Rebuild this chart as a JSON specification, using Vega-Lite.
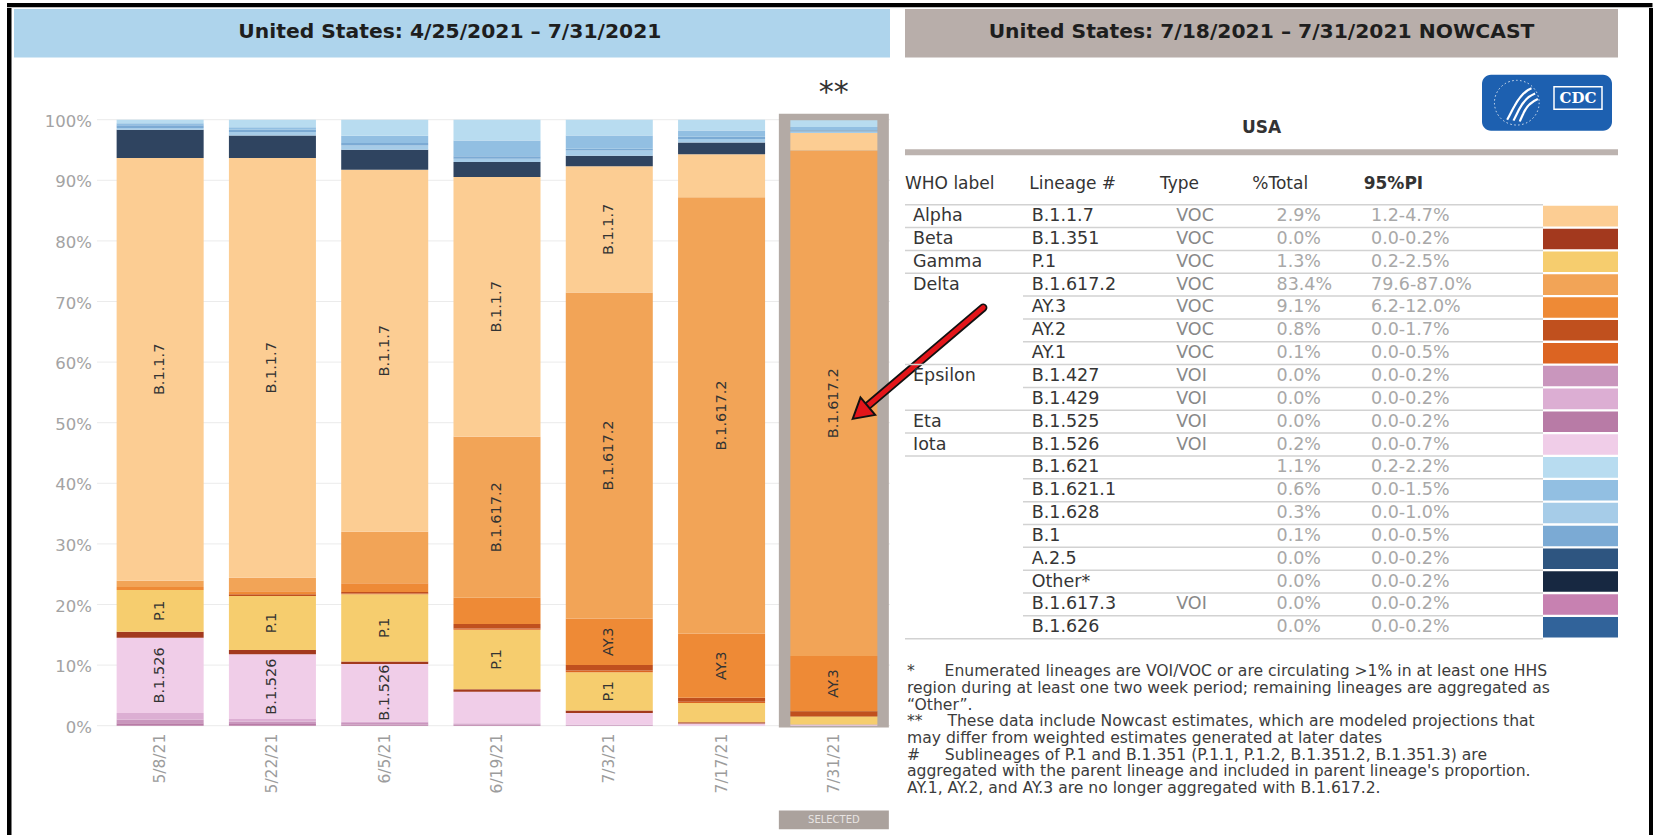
{
  "$schema": "https://vega.github.io/schema/vega-lite/v6.json",
  "background": "white",
  "padding": {"left": 7, "top": 3, "right": 0, "bottom": 0},
  "config": {
    "view": {"stroke": null},
    "font": "DejaVu Sans",
    "legend": {"disable": true}
  },
  "datasets": {
    "variants": [
      {"date": "5/8/21", "lineage": "B.1.525", "pct": 0.4},
      {"date": "5/8/21", "lineage": "B.1.427", "pct": 0.6},
      {"date": "5/8/21", "lineage": "B.1.429", "pct": 1.1},
      {"date": "5/8/21", "lineage": "B.1.526", "pct": 12.4},
      {"date": "5/8/21", "lineage": "B.1.351", "pct": 1.0},
      {"date": "5/8/21", "lineage": "P.1", "pct": 6.9},
      {"date": "5/8/21", "lineage": "AY.3", "pct": 0.5},
      {"date": "5/8/21", "lineage": "B.1.617.2", "pct": 1.0},
      {"date": "5/8/21", "lineage": "B.1.1.7", "pct": 69.8},
      {"date": "5/8/21", "lineage": "Other", "pct": 4.65},
      {"date": "5/8/21", "lineage": "B.1.628", "pct": 0.3},
      {"date": "5/8/21", "lineage": "B.1", "pct": 0.45},
      {"date": "5/8/21", "lineage": "B.1.621.1", "pct": 0.3},
      {"date": "5/8/21", "lineage": "B.1.621", "pct": 0.6},
      {"date": "5/22/21", "lineage": "B.1.525", "pct": 0.3},
      {"date": "5/22/21", "lineage": "B.1.427", "pct": 0.4},
      {"date": "5/22/21", "lineage": "B.1.429", "pct": 0.4},
      {"date": "5/22/21", "lineage": "B.1.526", "pct": 10.7},
      {"date": "5/22/21", "lineage": "B.1.351", "pct": 0.7},
      {"date": "5/22/21", "lineage": "P.1", "pct": 8.9},
      {"date": "5/22/21", "lineage": "AY.2", "pct": 0.3},
      {"date": "5/22/21", "lineage": "AY.3", "pct": 0.5},
      {"date": "5/22/21", "lineage": "B.1.617.2", "pct": 2.2},
      {"date": "5/22/21", "lineage": "B.1.1.7", "pct": 69.3},
      {"date": "5/22/21", "lineage": "Other", "pct": 3.7},
      {"date": "5/22/21", "lineage": "B.1.628", "pct": 0.55},
      {"date": "5/22/21", "lineage": "B.1", "pct": 0.4},
      {"date": "5/22/21", "lineage": "B.1.621.1", "pct": 0.4},
      {"date": "5/22/21", "lineage": "B.1.621", "pct": 1.25},
      {"date": "6/5/21", "lineage": "B.1.525", "pct": 0.2},
      {"date": "6/5/21", "lineage": "B.1.427", "pct": 0.25},
      {"date": "6/5/21", "lineage": "B.1.429", "pct": 0.25},
      {"date": "6/5/21", "lineage": "B.1.526", "pct": 9.5},
      {"date": "6/5/21", "lineage": "B.1.351", "pct": 0.4},
      {"date": "6/5/21", "lineage": "P.1", "pct": 11.1},
      {"date": "6/5/21", "lineage": "AY.1", "pct": 0.1},
      {"date": "6/5/21", "lineage": "AY.2", "pct": 0.25},
      {"date": "6/5/21", "lineage": "AY.3", "pct": 1.45},
      {"date": "6/5/21", "lineage": "B.1.617.2", "pct": 8.5},
      {"date": "6/5/21", "lineage": "B.1.1.7", "pct": 59.75},
      {"date": "6/5/21", "lineage": "Other", "pct": 3.3},
      {"date": "6/5/21", "lineage": "B.1.628", "pct": 0.7},
      {"date": "6/5/21", "lineage": "B.1", "pct": 0.4},
      {"date": "6/5/21", "lineage": "B.1.621.1", "pct": 1.2},
      {"date": "6/5/21", "lineage": "B.1.621", "pct": 2.65},
      {"date": "6/19/21", "lineage": "B.1.525", "pct": 0.1},
      {"date": "6/19/21", "lineage": "B.1.427", "pct": 0.15},
      {"date": "6/19/21", "lineage": "B.1.429", "pct": 0.15},
      {"date": "6/19/21", "lineage": "B.1.526", "pct": 5.2},
      {"date": "6/19/21", "lineage": "B.1.351", "pct": 0.4},
      {"date": "6/19/21", "lineage": "P.1", "pct": 9.85},
      {"date": "6/19/21", "lineage": "AY.1", "pct": 0.2},
      {"date": "6/19/21", "lineage": "AY.2", "pct": 0.75},
      {"date": "6/19/21", "lineage": "AY.3", "pct": 4.3},
      {"date": "6/19/21", "lineage": "B.1.617.2", "pct": 26.6},
      {"date": "6/19/21", "lineage": "B.1.1.7", "pct": 42.85},
      {"date": "6/19/21", "lineage": "Other", "pct": 2.45},
      {"date": "6/19/21", "lineage": "B.1.628", "pct": 0.55},
      {"date": "6/19/21", "lineage": "B.1", "pct": 0.4},
      {"date": "6/19/21", "lineage": "B.1.621.1", "pct": 2.6},
      {"date": "6/19/21", "lineage": "B.1.621", "pct": 3.45},
      {"date": "7/3/21", "lineage": "B.1.427", "pct": 0.1},
      {"date": "7/3/21", "lineage": "B.1.429", "pct": 0.1},
      {"date": "7/3/21", "lineage": "B.1.526", "pct": 1.9},
      {"date": "7/3/21", "lineage": "B.1.351", "pct": 0.4},
      {"date": "7/3/21", "lineage": "P.1", "pct": 6.3},
      {"date": "7/3/21", "lineage": "AY.1", "pct": 0.3},
      {"date": "7/3/21", "lineage": "AY.2", "pct": 0.9},
      {"date": "7/3/21", "lineage": "AY.3", "pct": 7.7},
      {"date": "7/3/21", "lineage": "B.1.617.2", "pct": 53.8},
      {"date": "7/3/21", "lineage": "B.1.1.7", "pct": 20.8},
      {"date": "7/3/21", "lineage": "Other", "pct": 1.76},
      {"date": "7/3/21", "lineage": "B.1.628", "pct": 0.84},
      {"date": "7/3/21", "lineage": "B.1", "pct": 0.3},
      {"date": "7/3/21", "lineage": "B.1.621.1", "pct": 2.2},
      {"date": "7/3/21", "lineage": "B.1.621", "pct": 2.6},
      {"date": "7/17/21", "lineage": "B.1.526", "pct": 0.35},
      {"date": "7/17/21", "lineage": "B.1.351", "pct": 0.2},
      {"date": "7/17/21", "lineage": "P.1", "pct": 3.2},
      {"date": "7/17/21", "lineage": "AY.1", "pct": 0.2},
      {"date": "7/17/21", "lineage": "AY.2", "pct": 0.65},
      {"date": "7/17/21", "lineage": "AY.3", "pct": 10.6},
      {"date": "7/17/21", "lineage": "B.1.617.2", "pct": 72.0},
      {"date": "7/17/21", "lineage": "B.1.1.7", "pct": 7.1},
      {"date": "7/17/21", "lineage": "Other", "pct": 1.95},
      {"date": "7/17/21", "lineage": "B.1.628", "pct": 0.55},
      {"date": "7/17/21", "lineage": "B.1", "pct": 0.4},
      {"date": "7/17/21", "lineage": "B.1.621.1", "pct": 1.0},
      {"date": "7/17/21", "lineage": "B.1.621", "pct": 1.8},
      {"date": "7/31/21", "lineage": "B.1.526", "pct": 0.2},
      {"date": "7/31/21", "lineage": "P.1", "pct": 1.3},
      {"date": "7/31/21", "lineage": "AY.1", "pct": 0.1},
      {"date": "7/31/21", "lineage": "AY.2", "pct": 0.8},
      {"date": "7/31/21", "lineage": "AY.3", "pct": 9.1},
      {"date": "7/31/21", "lineage": "B.1.617.2", "pct": 83.4},
      {"date": "7/31/21", "lineage": "B.1.1.7", "pct": 2.9},
      {"date": "7/31/21", "lineage": "B.1.628", "pct": 0.3},
      {"date": "7/31/21", "lineage": "B.1", "pct": 0.1},
      {"date": "7/31/21", "lineage": "B.1.621.1", "pct": 0.6},
      {"date": "7/31/21", "lineage": "B.1.621", "pct": 1.1}
    ],
    "table": [
      {"who": "Alpha", "lineage": "B.1.1.7", "type": "VOC", "total": "2.9%", "pi": "1.2-4.7%"},
      {"who": "Beta", "lineage": "B.1.351", "type": "VOC", "total": "0.0%", "pi": "0.0-0.2%"},
      {"who": "Gamma", "lineage": "P.1", "type": "VOC", "total": "1.3%", "pi": "0.2-2.5%"},
      {"who": "Delta", "lineage": "B.1.617.2", "type": "VOC", "total": "83.4%", "pi": "79.6-87.0%"},
      {"who": "Delta", "lineage": "AY.3", "type": "VOC", "total": "9.1%", "pi": "6.2-12.0%"},
      {"who": "Delta", "lineage": "AY.2", "type": "VOC", "total": "0.8%", "pi": "0.0-1.7%"},
      {"who": "Delta", "lineage": "AY.1", "type": "VOC", "total": "0.1%", "pi": "0.0-0.5%"},
      {"who": "Epsilon", "lineage": "B.1.427", "type": "VOI", "total": "0.0%", "pi": "0.0-0.2%"},
      {"who": "Epsilon", "lineage": "B.1.429", "type": "VOI", "total": "0.0%", "pi": "0.0-0.2%"},
      {"who": "Eta", "lineage": "B.1.525", "type": "VOI", "total": "0.0%", "pi": "0.0-0.2%"},
      {"who": "Iota", "lineage": "B.1.526", "type": "VOI", "total": "0.2%", "pi": "0.0-0.7%"},
      {"who": "", "lineage": "B.1.621", "type": "", "total": "1.1%", "pi": "0.2-2.2%"},
      {"who": "", "lineage": "B.1.621.1", "type": "", "total": "0.6%", "pi": "0.0-1.5%"},
      {"who": "", "lineage": "B.1.628", "type": "", "total": "0.3%", "pi": "0.0-1.0%"},
      {"who": "", "lineage": "B.1", "type": "", "total": "0.1%", "pi": "0.0-0.5%"},
      {"who": "", "lineage": "A.2.5", "type": "", "total": "0.0%", "pi": "0.0-0.2%"},
      {"who": "", "lineage": "Other*", "type": "", "total": "0.0%", "pi": "0.0-0.2%"},
      {"who": "", "lineage": "B.1.617.3", "type": "VOI", "total": "0.0%", "pi": "0.0-0.2%"},
      {"who": "", "lineage": "B.1.626", "type": "", "total": "0.0%", "pi": "0.0-0.2%"}
    ],
    "ticks": [
      {"v": 0, "label": "0%"}, {"v": 10, "label": "10%"}, {"v": 20, "label": "20%"}, {"v": 30, "label": "30%"},
      {"v": 40, "label": "40%"}, {"v": 50, "label": "50%"}, {"v": 60, "label": "60%"}, {"v": 70, "label": "70%"},
      {"v": 80, "label": "80%"}, {"v": 90, "label": "90%"}, {"v": 100, "label": "100%"}
    ]
  },
  "spacing": 0,
  "vconcat": [
    {"width": 1645.5, "height": 4.3, "data": {"values": [{}]}, "mark": {"type": "bar", "color": "#000000"}, "encoding": {}},
    {
      "spacing": 0,
      "bounds": "flush",
      "hconcat": [
        {"width": 4.5, "height": 828, "data": {"values": [{}]}, "mark": {"type": "bar", "color": "#000000"}, "encoding": {}},
        {"width": 1.5, "height": 1, "data": {"values": [{}]}, "mark": {"type": "bar", "opacity": 0}, "encoding": {}},
        {
          "width": 876,
          "height": 828,
          "resolve": {"scale": {"x": "independent"}},
          "layer": [
            {
              "layer": [
                {
                  "data": {"values": [{}]},
                  "mark": {"type": "rect", "color": "#aed4ec"},
                  "encoding": {
                    "x": {"datum": -0.801525, "type": "quantitative", "scale": {"domain": [-0.801525, 7], "nice": false, "zero": false}, "axis": null},
                    "x2": {"datum": 7},
                    "y": {"datum": 118.267, "type": "quantitative", "axis": null},
                    "y2": {"datum": 110.281}
                  }
                },
                {
                  "data": {"values": [{"title": "United States: 4/25/2021 – 7/31/2021"}]},
                  "mark": {"type": "text", "fontSize": 20.3, "fontWeight": "bold", "color": "#1e1e1e", "baseline": "middle"},
                  "encoding": {
                    "x": {"datum": 3.08, "type": "quantitative", "axis": null},
                    "y": {"datum": 114.439, "type": "quantitative", "axis": null},
                    "text": {"field": "title", "type": "nominal"}
                  }
                },
                {
                  "data": {"name": "ticks"},
                  "mark": {"type": "rule", "color": "#ebebeb", "strokeWidth": 1},
                  "encoding": {
                    "x": {"datum": -0.0623, "type": "quantitative", "axis": null},
                    "x2": {"datum": 7},
                    "y": {"field": "v", "type": "quantitative", "axis": null}
                  }
                },
                {
                  "data": {"name": "ticks"},
                  "mark": {"type": "text", "align": "right", "baseline": "middle", "fontSize": 16.5, "color": "#a3a3a3", "dy": 2},
                  "encoding": {
                    "x": {"datum": -0.10687, "type": "quantitative", "axis": null},
                    "y": {"field": "v", "type": "quantitative", "axis": null},
                    "text": {"field": "label", "type": "nominal"}
                  }
                }
              ]
            },
            {
              "layer": [
                {
                  "data": {"values": [{}]},
                  "mark": {"type": "bar", "color": "#b3aaa5", "width": {"band": 1.264}},
                  "encoding": {
                    "x": {"datum": "7/31/21", "type": "nominal", "axis": null},
                    "y": {"datum": 101, "type": "quantitative", "axis": null},
                    "y2": {"datum": -0.3}
                  }
                },
                {
                  "data": {"name": "variants"},
                  "transform": [{"window": [{"op": "row_number", "as": "rn"}], "groupby": ["date"]}],
                  "mark": {"type": "bar"},
                  "encoding": {
                    "x": {
                      "field": "date", "type": "nominal", "axis": null,
                      "scale": {"domain": ["5/8/21", "5/22/21", "6/5/21", "6/19/21", "7/3/21", "7/17/21", "7/31/21"], "range": [90, 876], "paddingInner": 0.225, "paddingOuter": 0.1125}
                    },
                    "y": {
                      "field": "pct", "type": "quantitative", "stack": "zero", "axis": null,
                      "scale": {"domain": [0, 100], "nice": false, "range": [717.7, 111.7]}
                    },
                    "color": {
                      "field": "lineage", "type": "nominal", "legend": null,
                      "scale": {
                        "domain": ["B.1.1.7","B.1.351","P.1","B.1.617.2","AY.3","AY.2","AY.1","B.1.427","B.1.429","B.1.525","B.1.526","B.1.621","B.1.621.1","B.1.628","B.1","A.2.5","Other","Other*","B.1.617.3","B.1.626"],
                        "range": ["#fccd93","#a3391e","#f6cd6e","#f2a457","#ee8a36","#c0501e","#dc6422","#c996bd","#dcaed3","#b87ba6","#f0cde8","#b8dcf0","#92bfe2","#a6cce8","#7baad4","#2e5580","#2f4460","#172841","#c781b1","#31639a"]
                      }
                    },
                    "detail": {"field": "lineage", "type": "nominal"},
                    "order": {"field": "rn", "type": "quantitative"}
                  }
                },
                {
                  "data": {"name": "variants"},
                  "transform": [{"window": [{"op": "row_number", "as": "rn"}], "groupby": ["date"]}],
                  "mark": {"type": "text", "angle": 270, "fontSize": 14.5, "color": "#333333", "baseline": "middle", "align": "center"},
                  "encoding": {
                    "x": {"field": "date", "type": "nominal", "axis": null},
                    "y": {"field": "pct", "type": "quantitative", "stack": "zero", "bandPosition": 0.5, "axis": null},
                    "detail": {"field": "lineage", "type": "nominal"},
                    "order": {"field": "rn", "type": "quantitative"},
                    "text": {"condition": {"test": "datum.pct > length(datum.lineage) * 1.15 + 1", "field": "lineage", "type": "nominal"}, "value": ""}
                  }
                },
                {
                  "data": {"name": "variants"},
                  "transform": [{"aggregate": [{"op": "count", "as": "n"}], "groupby": ["date"]}],
                  "mark": {"type": "text", "angle": 270, "align": "right", "baseline": "middle", "fontSize": 15.5, "color": "#9c9c9c"},
                  "encoding": {
                    "x": {"field": "date", "type": "nominal", "axis": null},
                    "y": {"datum": -1.32, "type": "quantitative", "axis": null},
                    "text": {"field": "date", "type": "nominal"}
                  }
                },
                {
                  "data": {"values": [{}]},
                  "mark": {"type": "text", "text": "**", "fontSize": 30, "color": "#333333", "baseline": "alphabetic"},
                  "encoding": {
                    "x": {"datum": "7/31/21", "type": "nominal", "axis": null},
                    "y": {"datum": 102.9, "type": "quantitative", "axis": null}
                  }
                },
                {
                  "data": {"values": [{}]},
                  "mark": {"type": "bar", "color": "#aba29d", "width": {"band": 1.264}},
                  "encoding": {
                    "x": {"datum": "7/31/21", "type": "nominal", "axis": null},
                    "y": {"datum": -14.0, "type": "quantitative", "axis": null},
                    "y2": {"datum": -17.1}
                  }
                },
                {
                  "data": {"values": [{}]},
                  "mark": {"type": "text", "text": "SELECTED", "fontSize": 10, "color": "#e8e4e2", "letterSpacing": 1.2, "baseline": "middle"},
                  "encoding": {
                    "x": {"datum": "7/31/21", "type": "nominal", "axis": null},
                    "y": {"datum": -15.55, "type": "quantitative", "axis": null}
                  }
                }
              ]
            },
            {
              "layer": [
                {
                  "data": {"values": [{}]},
                  "mark": {"type": "rule", "color": "#111111", "strokeWidth": 8.5, "strokeCap": "round"},
                  "encoding": {
                    "x": {"datum": 7.83, "type": "quantitative", "scale": {"domain": [-0.801525, 7], "nice": false, "zero": false}, "axis": null},
                    "y": {"datum": 68.98, "type": "quantitative", "axis": null},
                    "x2": {"datum": 6.778},
                    "y2": {"datum": 52.41}
                  }
                },
                {
                  "data": {"values": [{}]},
                  "mark": {"type": "rule", "color": "#e3151a", "strokeWidth": 5, "strokeCap": "round"},
                  "encoding": {
                    "x": {"datum": 7.83, "type": "quantitative", "axis": null},
                    "y": {"datum": 68.98, "type": "quantitative", "axis": null},
                    "x2": {"datum": 6.778},
                    "y2": {"datum": 52.41}
                  }
                },
                {
                  "data": {"values": [{}]},
                  "mark": {"type": "point", "shape": "triangle-up", "angle": 230, "size": 520, "filled": true, "fill": "#e3151a", "stroke": "#111111", "strokeWidth": 2, "opacity": 1},
                  "encoding": {
                    "x": {"datum": 6.735, "type": "quantitative", "axis": null},
                    "y": {"datum": 51.68, "type": "quantitative", "axis": null}
                  }
                }
              ]
            }
          ]
        },
        {"width": 15, "height": 1, "data": {"values": [{}]}, "mark": {"type": "bar", "opacity": 0}, "encoding": {}},
        {
          "width": 713,
          "height": 828,
          "resolve": {"scale": {"y": "independent"}},
          "layer": [
            {
              "layer": [
                {
                  "data": {"values": [{}]},
                  "mark": {"type": "rect", "color": "#b8aeaa"},
                  "encoding": {
                    "x": {"datum": 0, "type": "quantitative", "scale": {"domain": [0, 1], "nice": false, "zero": false}, "axis": null},
                    "x2": {"datum": 1},
                    "y": {"datum": 0.001208, "type": "quantitative", "scale": {"domain": [0, 1], "reverse": true, "nice": false, "zero": false}, "axis": null},
                    "y2": {"datum": 0.059662}
                  }
                },
                {
                  "data": {"values": [{"title": "United States: 7/18/2021 – 7/31/2021 NOWCAST"}]},
                  "mark": {"type": "text", "fontSize": 20.3, "fontWeight": "bold", "color": "#1e1e1e", "baseline": "middle"},
                  "encoding": {
                    "x": {"datum": 0.5, "type": "quantitative", "axis": null},
                    "y": {"datum": 0.029227, "type": "quantitative", "axis": null},
                    "text": {"field": "title", "type": "nominal"}
                  }
                },
                {
                  "data": {"values": [{}]},
                  "mark": {"type": "rect", "color": "#1d60b0", "cornerRadius": 9},
                  "encoding": {
                    "x": {"datum": 0.80926, "type": "quantitative", "axis": null},
                    "x2": {"datum": 0.99158},
                    "y": {"datum": 0.080556, "type": "quantitative", "axis": null},
                    "y2": {"datum": 0.148188}
                  }
                },
                {
                  "data": {"values": [{}]},
                  "mark": {"type": "point", "shape": "circle", "size": 2000, "filled": false, "color": "white", "strokeWidth": 1, "strokeDash": [1.5, 2.5], "opacity": 0.85},
                  "encoding": {
                    "x": {"datum": 0.85806, "type": "quantitative", "axis": null},
                    "y": {"datum": 0.114372, "type": "quantitative", "axis": null}
                  }
                },
                {
                  "data": {"values": [{}]},
                  "mark": {"type": "point", "shape": "M0.6,-0.9 C0.2,-0.75 -0.1,-0.35 -0.35,0.1 C-0.5,0.35 -0.6,0.6 -0.75,0.85 M0.8,-0.6 C0.4,-0.45 0.1,-0.1 -0.1,0.3 C-0.2,0.5 -0.3,0.7 -0.4,0.9 M0.95,-0.3 C0.6,-0.15 0.3,0.15 0.15,0.5 C0.08,0.65 0,0.8 -0.05,0.95", "size": 1300, "filled": false, "color": "white", "strokeWidth": 2.2, "opacity": 1},
                  "encoding": {
                    "x": {"datum": 0.86353, "type": "quantitative", "axis": null},
                    "y": {"datum": 0.116425, "type": "quantitative", "axis": null}
                  }
                },
                {
                  "data": {"values": [{}]},
                  "mark": {"type": "rect", "fill": "#1d60b0", "stroke": "white", "strokeWidth": 1.5},
                  "encoding": {
                    "x": {"datum": 0.91024, "type": "quantitative", "axis": null},
                    "x2": {"datum": 0.97756},
                    "y": {"datum": 0.095048, "type": "quantitative", "axis": null},
                    "y2": {"datum": 0.122222}
                  }
                },
                {
                  "data": {"values": [{}]},
                  "mark": {"type": "text", "text": "CDC", "font": "DejaVu Serif", "fontWeight": "bold", "fontSize": 15, "color": "white", "baseline": "middle"},
                  "encoding": {
                    "x": {"datum": 0.9439, "type": "quantitative", "axis": null},
                    "y": {"datum": 0.108575, "type": "quantitative", "axis": null}
                  }
                },
                {
                  "data": {"values": [{}]},
                  "mark": {"type": "text", "text": "USA", "fontSize": 17, "fontWeight": "bold", "color": "#333333", "baseline": "middle"},
                  "encoding": {
                    "x": {"datum": 0.5, "type": "quantitative", "axis": null},
                    "y": {"datum": 0.145411, "type": "quantitative", "axis": null}
                  }
                },
                {
                  "data": {"values": [{}]},
                  "mark": {"type": "rect", "color": "#bcb3af"},
                  "encoding": {
                    "x": {"datum": 0, "type": "quantitative", "axis": null},
                    "x2": {"datum": 1},
                    "y": {"datum": 0.170531, "type": "quantitative", "axis": null},
                    "y2": {"datum": 0.177778}
                  }
                },
                {
                  "data": {"values": [{}]},
                  "mark": {"type": "text", "text": "WHO label", "fontSize": 17, "color": "#333333", "align": "left", "baseline": "middle"},
                  "encoding": {
                    "x": {"datum": 0.0, "type": "quantitative", "axis": null},
                    "y": {"datum": 0.21256, "type": "quantitative", "axis": null}
                  }
                },
                {
                  "data": {"values": [{}]},
                  "mark": {"type": "text", "text": "Lineage #", "fontSize": 17, "color": "#333333", "align": "left", "baseline": "middle"},
                  "encoding": {
                    "x": {"datum": 0.17433, "type": "quantitative", "axis": null},
                    "y": {"datum": 0.21256, "type": "quantitative", "axis": null}
                  }
                },
                {
                  "data": {"values": [{}]},
                  "mark": {"type": "text", "text": "Type", "fontSize": 17, "color": "#333333", "align": "left", "baseline": "middle"},
                  "encoding": {
                    "x": {"datum": 0.35764, "type": "quantitative", "axis": null},
                    "y": {"datum": 0.21256, "type": "quantitative", "axis": null}
                  }
                },
                {
                  "data": {"values": [{}]},
                  "mark": {"type": "text", "text": "%Total", "fontSize": 17, "color": "#333333", "align": "left", "baseline": "middle"},
                  "encoding": {
                    "x": {"datum": 0.4871, "type": "quantitative", "axis": null},
                    "y": {"datum": 0.21256, "type": "quantitative", "axis": null}
                  }
                },
                {
                  "data": {"values": [{}]},
                  "mark": {"type": "text", "text": "95%PI", "fontSize": 17, "fontWeight": "bold", "color": "#333333", "align": "left", "baseline": "middle"},
                  "encoding": {
                    "x": {"datum": 0.64334, "type": "quantitative", "axis": null},
                    "y": {"datum": 0.21256, "type": "quantitative", "axis": null}
                  }
                },
                {
                  "data": {"values": [{}]},
                  "mark": {
                    "type": "text", "align": "left", "baseline": "top", "fontSize": 15.6, "lineHeight": 16.7, "color": "#3c3c3c",
                    "text": [
                      "*\u00a0\u00a0\u00a0\u00a0\u00a0\u00a0Enumerated lineages are VOI/VOC or are circulating >1% in at least one HHS",
                      "region during at least one two week period; remaining lineages are aggregated as",
                      "“Other”.",
                      "**\u00a0\u00a0\u00a0\u00a0\u00a0These data include Nowcast estimates, which are modeled projections that",
                      "may differ from weighted estimates generated at later dates",
                      "#\u00a0\u00a0\u00a0\u00a0\u00a0Sublineages of P.1 and B.1.351 (P.1.1,  P.1.2, B.1.351.2, B.1.351.3) are",
                      "aggregated with the parent lineage and included in parent lineage's proportion.",
                      "AY.1, AY.2, and AY.3 are no longer aggregated with B.1.617.2."
                    ]
                  },
                  "encoding": {
                    "x": {"datum": 0.002805, "type": "quantitative", "axis": null},
                    "y": {"datum": 0.792512, "type": "quantitative", "axis": null}
                  }
                }
              ]
            },
            {
              "data": {"name": "table"},
              "transform": [{"window": [{"op": "row_number", "as": "rn"}], "groupby": ["who"]}],
              "encoding": {
                "y": {"field": "lineage", "type": "nominal", "sort": null, "axis": null, "scale": {"range": [196.7, 630.7], "paddingInner": 0, "paddingOuter": 0}}
              },
              "layer": [
                {
                  "mark": {"type": "rule", "color": "#d2d2d2", "strokeWidth": 1.5},
                  "encoding": {
                    "x": {"datum": 0, "type": "quantitative", "scale": {"domain": [0, 1], "nice": false, "zero": false}, "axis": null},
                    "x2": {"datum": 0.165498},
                    "y": {"field": "lineage", "type": "nominal", "sort": null, "axis": null, "bandPosition": 0},
                    "opacity": {"condition": {"test": "datum.rn == 1", "value": 1}, "value": 0}
                  }
                },
                {
                  "mark": {"type": "rule", "color": "#d2d2d2", "strokeWidth": 1.5},
                  "encoding": {
                    "x": {"datum": 0.165498, "type": "quantitative", "axis": null},
                    "x2": {"datum": 0.894811},
                    "y": {"field": "lineage", "type": "nominal", "sort": null, "axis": null, "bandPosition": 0}
                  }
                },
                {
                  "mark": {"type": "rule", "color": "#d2d2d2", "strokeWidth": 1.5},
                  "encoding": {
                    "x": {"datum": 0, "type": "quantitative", "axis": null},
                    "x2": {"datum": 0.894811},
                    "y": {"field": "lineage", "type": "nominal", "sort": null, "axis": null, "bandPosition": 1},
                    "opacity": {"condition": {"test": "datum.lineage == 'B.1.626'", "value": 1}, "value": 0}
                  }
                },
                {
                  "mark": {"type": "text", "align": "left", "baseline": "middle", "fontSize": 17.5, "color": "#353535"},
                  "encoding": {
                    "x": {"datum": 0.01122, "type": "quantitative", "axis": null},
                    "text": {"condition": {"test": "datum.rn == 1", "field": "who", "type": "nominal"}, "value": ""}
                  }
                },
                {
                  "mark": {"type": "text", "align": "left", "baseline": "middle", "fontSize": 17.5, "color": "#353535"},
                  "encoding": {
                    "x": {"datum": 0.1777, "type": "quantitative", "axis": null},
                    "text": {"field": "lineage", "type": "nominal"}
                  }
                },
                {
                  "mark": {"type": "text", "align": "left", "baseline": "middle", "fontSize": 17.5, "color": "#888888"},
                  "encoding": {
                    "x": {"datum": 0.380365, "type": "quantitative", "axis": null},
                    "text": {"field": "type", "type": "nominal"}
                  }
                },
                {
                  "mark": {"type": "text", "align": "left", "baseline": "middle", "fontSize": 17.5, "color": "#a8a8a8"},
                  "encoding": {
                    "x": {"datum": 0.521038, "type": "quantitative", "axis": null},
                    "text": {"field": "total", "type": "nominal"}
                  }
                },
                {
                  "mark": {"type": "text", "align": "left", "baseline": "middle", "fontSize": 17.5, "color": "#a8a8a8"},
                  "encoding": {
                    "x": {"datum": 0.653576, "type": "quantitative", "axis": null},
                    "text": {"field": "pi", "type": "nominal"}
                  }
                },
                {
                  "mark": {"type": "bar", "height": {"band": 0.9}},
                  "encoding": {
                    "x": {"datum": 0.894811, "type": "quantitative", "axis": null},
                    "x2": {"datum": 1},
                    "color": {
                      "field": "lineage", "type": "nominal", "legend": null,
                      "scale": {
                        "domain": ["B.1.1.7","B.1.351","P.1","B.1.617.2","AY.3","AY.2","AY.1","B.1.427","B.1.429","B.1.525","B.1.526","B.1.621","B.1.621.1","B.1.628","B.1","A.2.5","Other","Other*","B.1.617.3","B.1.626"],
                        "range": ["#fccd93","#a3391e","#f6cd6e","#f2a457","#ee8a36","#c0501e","#dc6422","#c996bd","#dcaed3","#b87ba6","#f0cde8","#b8dcf0","#92bfe2","#a6cce8","#7baad4","#2e5580","#2f4460","#172841","#c781b1","#31639a"]
                      }
                    }
                  }
                }
              ]
            }
          ]
        },
        {"width": 31, "height": 1, "data": {"values": [{}]}, "mark": {"type": "bar", "opacity": 0}, "encoding": {}},
        {"width": 4.5, "height": 828, "data": {"values": [{}]}, "mark": {"type": "bar", "color": "#000000"}, "encoding": {}}
      ]
    }
  ]
}
